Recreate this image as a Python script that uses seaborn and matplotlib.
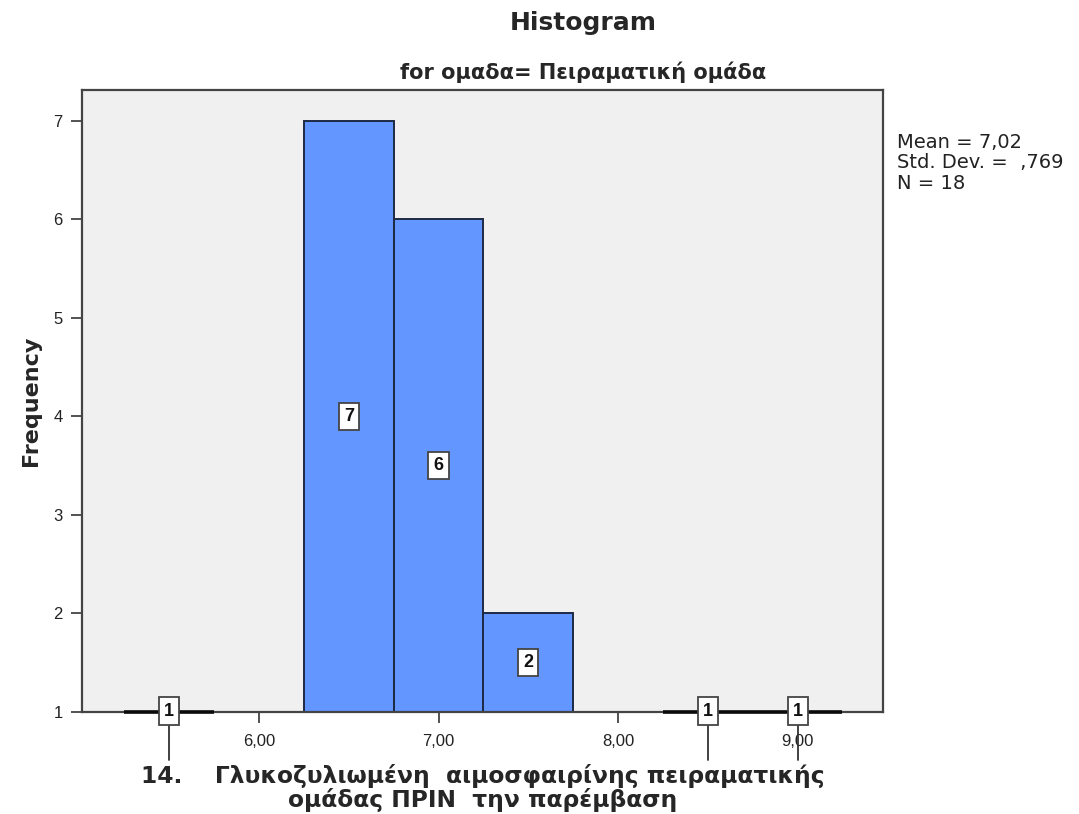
import numpy as np
import pandas as pd
import matplotlib
matplotlib.use("Agg")
import matplotlib.pyplot as plt
import seaborn as sns

# Binned HbA1c values for the experimental group (before intervention)
bin_edges = [5.25, 5.75, 6.25, 6.75, 7.25, 7.75, 8.25, 8.75, 9.25]
bin_counts = [1, 0, 7, 6, 2, 0, 1, 1]
x_ticks = [6.0, 7.0, 8.0, 9.0]
x_tick_labels = ["6,00", "7,00", "8,00", "9,00"]
y_ticks = [1, 2, 3, 4, 5, 6, 7]
stats_lines = ["Mean = 7,02", "Std. Dev. =  ,769", "N = 18"]

sns.set_theme(style="white")
plt.rcParams["font.family"] = ["Liberation Sans", "DejaVu Sans"]

edges = np.array(bin_edges)
centers = (edges[:-1] + edges[1:]) / 2
df = pd.DataFrame({"value": centers, "count": bin_counts})

fig = plt.figure(figsize=(10.79, 8.14), dpi=100)
ax = fig.add_axes([0.076, 0.1253, 0.7424, 0.7641])
ax.set_facecolor("#F0F0F0")

bar_color = "#6496FF"
edge_color = "#1E2A44"
sns.histplot(data=df, x="value", weights="count", bins=list(bin_edges), ax=ax,
             color=bar_color, alpha=1.0, edgecolor=edge_color, linewidth=1.4)

baseline = 1
ax.set_xlim(5.014, 9.476)
ax.set_ylim(baseline, 7.31)

# bins whose count sits on the baseline are shown as a flat dark line
for c, n, lo, hi in zip(centers, bin_counts, edges[:-1], edges[1:]):
    if n == baseline:
        ax.hlines(baseline, lo, hi, color="#0A0A0A", linewidth=2.6, zorder=4,
                  clip_on=False)

# value labels
box = dict(boxstyle="square,pad=0.28", facecolor="white", edgecolor="#444444", linewidth=1.3)
for c, n in zip(centers, bin_counts):
    if n <= 0:
        continue
    if n > baseline:
        ax.text(c, (baseline + n) / 2, str(n), ha="center", va="center",
                fontsize=13, fontweight="bold", bbox=box, zorder=6, color="#111111")
    else:
        ax.plot([c, c], [baseline, baseline - 0.49], color="#333333",
                linewidth=1.3, clip_on=False, zorder=5)
        ax.text(c, baseline + 0.01, str(n), ha="center", va="center",
                fontsize=13, fontweight="bold", bbox=box, zorder=6, clip_on=False,
                color="#111111")

ax.set_xticks(x_ticks)
ax.set_xticklabels(x_tick_labels)
ax.set_yticks(y_ticks)
ax.tick_params(axis="both", direction="out", length=8, width=1.3, color="#444444",
               labelsize=12, labelcolor="#222222", bottom=True, left=True)
ax.tick_params(axis="x", pad=8)
ax.tick_params(axis="y", pad=6)
for s in ax.spines.values():
    s.set_color("#444444")
    s.set_linewidth(1.6)
    s.set_visible(True)

ax.set_xlabel("")
ax.set_ylabel("Frequency", fontsize=16, fontweight="bold", family=["DejaVu Sans"], labelpad=9)

fig.text(0.5404, 0.972, "Histogram", ha="center", va="center",
         fontsize=18, fontweight="bold", family=["DejaVu Sans"])
fig.text(0.5404, 0.911, "for ομαδα= Πειραματική ομάδα", ha="center", va="center",
         fontsize=15, fontweight="bold", family=["DejaVu Sans"])

fig.text(0.447, 0.032, "14.    Γλυκοζυλιωμένη  αιμοσφαιρίνης πειραματικής\nομάδας ΠΡΙΝ  την παρέμβαση",
         ha="center", va="center", fontsize=16.8, fontweight="bold",
         family=["DejaVu Sans"], linespacing=1.02)

fig.text(0.831, 0.800, "\n".join(stats_lines), ha="left", va="center",
         fontsize=14, color="#222222", linespacing=1.1, family=["DejaVu Sans"])

fig.savefig("out.png", dpi=100)
